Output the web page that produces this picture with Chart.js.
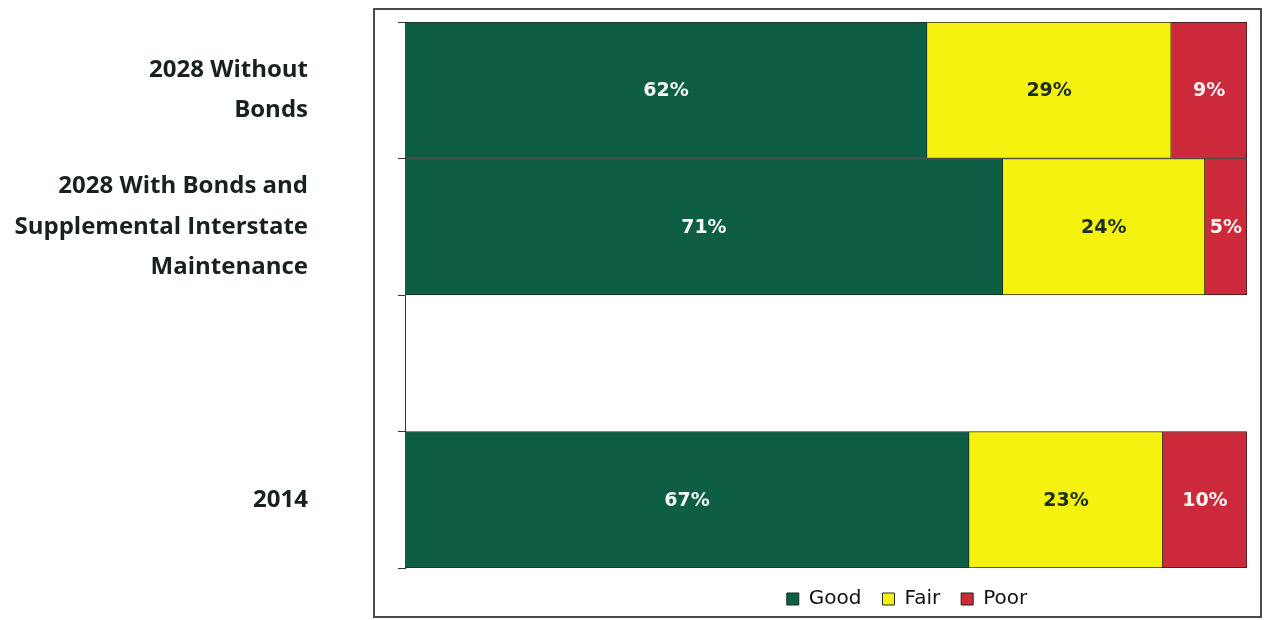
<!DOCTYPE html>
<html><head><meta charset="utf-8">
<script src="https://cdn.jsdelivr.net/npm/chart.js@4"></script>
<style>html,body{margin:0;padding:0;background:#fff;}</style>
</head><body><canvas id="c" width="1265" height="620"></canvas>
<script>
const categories = [["2028 Without","Bonds"],["2028 With Bonds and","Supplemental Interstate","Maintenance"],"",["2014"]];
const goodValues = [62, 71, null, 67];
const fairValues = [29, 24, null, 23];
const poorValues = [9, 5, null, 10];
const seriesNames = ["Good","Fair","Poor"];

const frame = {
  id:'frame',
  beforeDraw(chart){
    const ctx = chart.ctx; ctx.save();
    ctx.strokeStyle = '#4a4a4a'; ctx.lineWidth = 2;
    ctx.strokeRect(374, 9, 887, 608);
    ctx.restore();
  },
  afterLayout(chart){
    const lg = chart.legend;
    if(lg){ const c = 907, half = 1265 - c; lg.left = c - half; lg.right = c + half; }
  }
};
const labelsPlugin = {
  id:'barlabels',
  afterDatasetsDraw(chart){
    const ctx = chart.ctx; ctx.save();
    ctx.font = 'bold 19px "DejaVu Sans", sans-serif';
    ctx.textAlign='center'; ctx.textBaseline='middle';
    chart.data.datasets.forEach((ds,i)=>{
      const meta = chart.getDatasetMeta(i);
      meta.data.forEach((bar,j)=>{
        const v = ds.data[j]; if(v==null) return;
        const cx = (bar.x + bar.base)/2;
        ctx.fillStyle = ds.labelColor;
        ctx.fillText(v + '%', cx, bar.y + 1);
      });
    });
    ctx.restore();
  }
};
new Chart(document.getElementById('c'), {
  type:'bar',
  data:{
    labels: categories,
    datasets:[
      {label:seriesNames[0], data:goodValues, backgroundColor:'#0d5e45', borderColor:'#1c2b22', borderWidth:1, labelColor:'#f4f8f2'},
      {label:seriesNames[1], data:fairValues, backgroundColor:'#f4f20e', borderColor:'#2a2a1a', borderWidth:1, labelColor:'#1c2e22'},
      {label:seriesNames[2], data:poorValues, backgroundColor:'#cc2a3a', borderColor:'#2b1c1c', borderWidth:1, labelColor:'#fbf2f2'}
    ]
  },
  options:{
    indexAxis:'y',
    responsive:false,
    animation:false,
    barPercentage:1,
    categoryPercentage:1,
    layout:{padding:{left:0, top:22, right:18, bottom:1}},
    plugins:{
      legend:{position:'bottom', labels:{boxWidth:12, boxHeight:12, padding:21, color:'#111', font:{family:'"DejaVu Sans", sans-serif', size:20}}},
      tooltip:{enabled:false}
    },
    scales:{
      x:{stacked:true, min:0, max:100, display:false},
      y:{stacked:true,
        afterFit(s){ s.width = 405; s.paddingTop = 0; s.paddingBottom = 0; },
        border:{display:true, color:'#333', width:1},
        grid:{drawOnChartArea:false, drawTicks:true, tickLength:7, color:'#333', offset:true},
        ticks:{padding:90, color:'#17221b', font:{family:'"Open Sans", sans-serif', weight:'bold', size:24, lineHeight:1.7}}
      }
    }
  },
  plugins:[frame, labelsPlugin]
});
</script></body></html>
